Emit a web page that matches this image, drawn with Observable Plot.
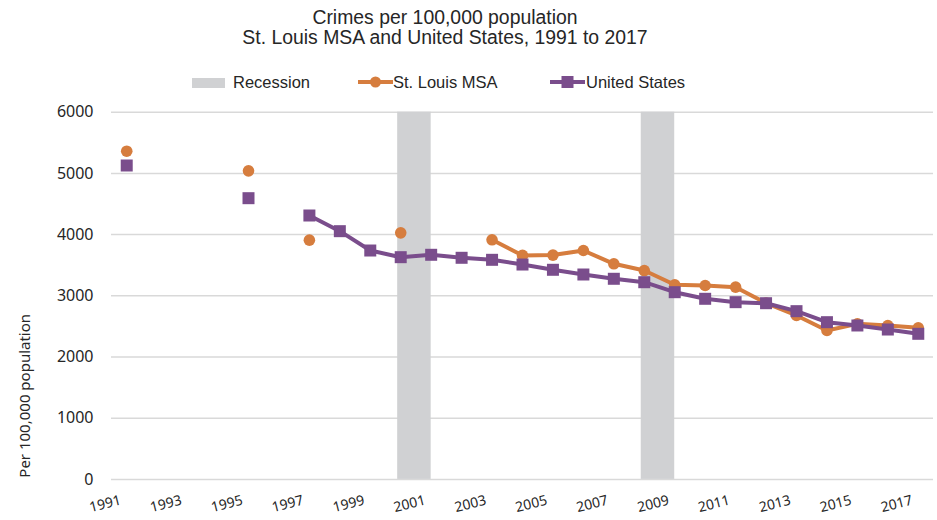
<!DOCTYPE html>
<html><head><meta charset="utf-8">
<script src="https://cdn.jsdelivr.net/npm/d3@7"></script>
<script src="https://cdn.jsdelivr.net/npm/@observablehq/plot@0.6"></script>
<style>
body{margin:0;background:#fff;width:937px;height:520px;overflow:hidden;font-family:"Liberation Sans",Arial,sans-serif;}
#header{position:relative;height:95px;width:937px;}
.t{position:absolute;left:0;width:890px;text-align:center;font-size:19.4px;line-height:21px;color:#262626;white-space:nowrap;}
.lg{position:absolute;font-size:16.5px;color:#262626;white-space:nowrap;top:72px;line-height:20px;}
.sw{position:absolute;top:72px;}
#chart svg{display:block;overflow:visible;}
</style></head>
<body>
<div id="header">
  <div class="t" style="top:7px">Crimes per 100,000 population</div>
  <div class="t" style="top:27px">St. Louis MSA and United States, 1991 to 2017</div>
  <svg class="sw" style="left:192px" width="34" height="20"><rect x="0" y="6" width="33" height="10" fill="#D0D1D3"/></svg>
  <div class="lg" style="left:233px">Recession</div>
  <svg class="sw" style="left:357px" width="38" height="20"><line x1="1" x2="36" y1="10" y2="10" stroke="#D67D3E" stroke-width="4"/><circle cx="18.5" cy="10" r="5.5" fill="#D67D3E"/></svg>
  <div class="lg" style="left:393px">St. Louis MSA</div>
  <svg class="sw" style="left:549px" width="38" height="20"><line x1="1" x2="36" y1="10" y2="10" stroke="#7A4D8C" stroke-width="4"/><rect x="12.5" y="4" width="12" height="12" fill="#7A4D8C"/></svg>
  <div class="lg" style="left:586px">United States</div>
</div>
<div id="chart"></div>
<script>
const years = [1991,1992,1993,1994,1995,1996,1997,1998,1999,2000,2001,2002,2003,2004,2005,2006,2007,2008,2009,2010,2011,2012,2013,2014,2015,2016,2017];
const stLouis = [5363,null,null,null,5042,null,3909,null,null,4029,null,null,3915,3660,3665,3740,3523,3413,3180,3168,3141,2880,2678,2433,2542,2515,2477];
const unitedStates = [5129,null,null,null,4595,null,4312,4056,3740,3631,3670,3621,3588,3511,3425,3348,3278,3222,3059,2951,2896,2879,2749,2569,2515,2449,2379];
const recessionStart = [1999.9, 2007.9];
const recessionEnd = [2001.0, 2009.0];
const yTicks = [0,1000,2000,3000,4000,5000,6000];
const xLabels = [1991,1993,1995,1997,1999,2001,2003,2005,2007,2009,2011,2013,2015,2017];
const yTitle = "Per 100,000 population";

const ORANGE = "#D67D3E", PURPLE = "#7A4D8C", GRAY = "#D0D1D3";

const stl = years.map((y,i)=>({year:y, value:stLouis[i]}));
const us = years.map((y,i)=>({year:y, value:unitedStates[i]}));
const rec = recessionStart.map((s,i)=>({start:s, end:recessionEnd[i]}));

const chart = Plot.plot({
  width: 937,
  height: 425,
  marginLeft: 111,
  marginRight: 4,
  marginTop: 16.7,
  marginBottom: 41.1,
  style: {fontFamily: "'Noto Sans', sans-serif", color: "#262626", background: "#fff"},
  x: {domain: [1990.5, 2017.5], axis: null},
  y: {domain: [0, 6000], axis: null},
  marks: [
    Plot.ruleY(yTicks, {stroke: "#D9D9D9", strokeWidth: 1.5}),
    Plot.rectX(rec, {x1: "start", x2: "end", y1: 0, y2: 6000, fill: GRAY}),
    Plot.axisY({ticks: yTicks, tickSize: 0, tickPadding: 18, fontSize: 16, label: null, tickFormat: d => String(d)}),
    Plot.text([yTitle], {frameAnchor: "left", text: d => d, rotate: -90, textAnchor: "middle", dx: -86, dy: 100, fontSize: 15}),
    Plot.text(xLabels, {x: d => d, frameAnchor: "bottom", text: d => String(d), rotate: -14, textAnchor: "end", dx: -5, dy: 25, fontSize: 14}),
    Plot.line(stl, {x: "year", y: "value", stroke: ORANGE, strokeWidth: 4, curve: "linear"}),
    Plot.dot(stl.filter(d => d.value != null), {x: "year", y: "value", r: 5.8, fill: ORANGE, symbol: "circle"}),
    Plot.line(us, {x: "year", y: "value", stroke: PURPLE, strokeWidth: 4, curve: "linear"}),
    Plot.dot(us.filter(d => d.value != null), {x: "year", y: "value", r: 6.77, fill: PURPLE, symbol: "square"})
  ]
});
document.getElementById("chart").appendChild(chart);
</script>
</body></html>
